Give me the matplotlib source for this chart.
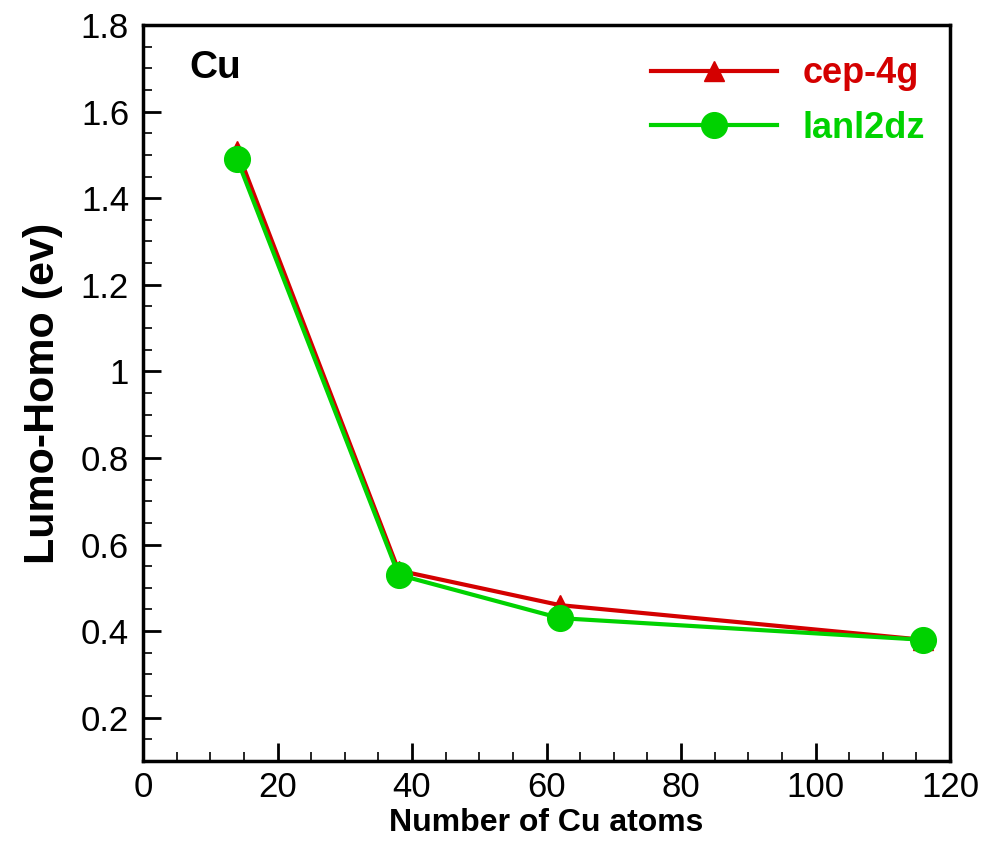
import matplotlib
matplotlib.use("Agg")
import matplotlib.pyplot as plt
from matplotlib.ticker import MultipleLocator, FuncFormatter

x_atoms = [14, 38, 62, 116]
cep_4g = [1.51, 0.54, 0.46, 0.38]
lanl2dz = [1.49, 0.53, 0.43, 0.38]
series_names = ["cep-4g", "lanl2dz"]

plt.rcParams['font.family'] = ['Liberation Sans', 'DejaVu Sans']

RED = '#d40000'
GREEN = '#00d200'

fig = plt.figure(figsize=(9.88, 8.47), dpi=100)
ax = fig.add_axes([143/988, 1-761/847, (950-143)/988, (761-25)/847])

ax.plot(x_atoms, cep_4g, color=RED, lw=3, marker='^', ms=15, label=series_names[0], zorder=3)
ax.plot(x_atoms, lanl2dz, color=GREEN, lw=3, marker='o', ms=18.5, label=series_names[1], zorder=4)

ax.set_xlim(0, 120)
ax.set_ylim(0.1, 1.8)
ax.xaxis.set_major_locator(MultipleLocator(20))
ax.xaxis.set_minor_locator(MultipleLocator(5))
ax.yaxis.set_major_locator(MultipleLocator(0.2))
ax.yaxis.set_minor_locator(MultipleLocator(0.05))

def yfmt(v, p):
    s = f"{v:.1f}"
    if s.endswith(".0"):
        s = s[:-2]
    return s
ax.yaxis.set_major_formatter(FuncFormatter(yfmt))

for s in ax.spines.values():
    s.set_linewidth(2.5)
ax.tick_params(which='major', direction='in', length=13, width=2, labelsize=25, pad=7,
               top=False, right=False)
ax.tick_params(which='minor', direction='in', length=6.5, width=1.2, top=False, right=False)
ax.tick_params(axis='y', which='major', pad=10)

ax.set_xlabel("Number of Cu atoms", fontsize=23, fontweight='bold', labelpad=3)
ax.set_ylabel("Lumo-Homo (ev)", fontsize=31, fontweight='bold', labelpad=13)

ax.text(189/988, 1-78/847, "Cu", transform=fig.transFigure, fontsize=28, fontweight='bold',
        ha='left', va='baseline')

leg = ax.legend(loc='upper right', bbox_to_anchor=(1.0, 0.992), frameon=False,
                prop={'size': 26, 'weight': 'bold'}, handlelength=3.5, handletextpad=0.7,
                labelspacing=0.55, borderaxespad=0.3, numpoints=1, markerscale=1.0)
for txt, c in zip(leg.get_texts(), [RED, GREEN]):
    txt.set_color(c)

fig.savefig("out.png", dpi=100)
